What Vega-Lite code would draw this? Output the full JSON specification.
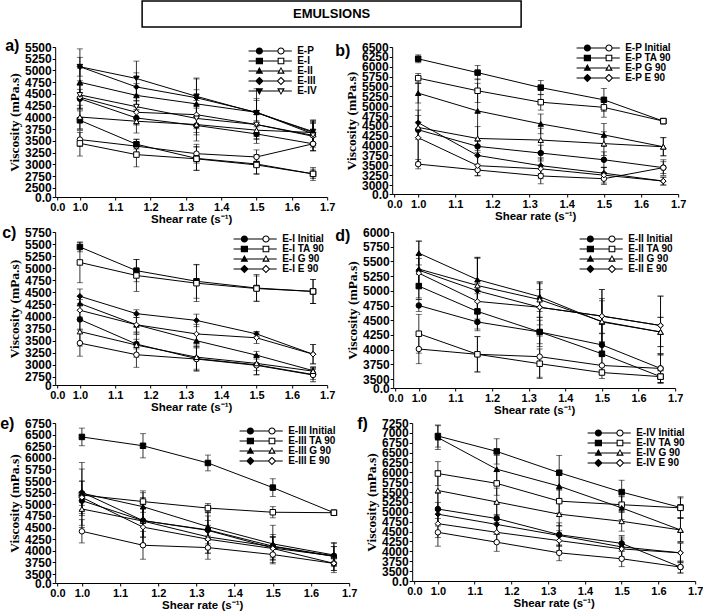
{
  "$schema": "https://vega.github.io/schema/vega-lite/v6.json",
  "padding": {"left": 0, "top": 0, "right": 0, "bottom": 0},
  "config": {
    "view": {"stroke": null},
    "font": "Liberation Sans",
    "axis": {"grid": false, "domainColor": "black", "tickColor": "black", "labelColor": "black", "titleColor": "black", "labelFont": "Liberation Sans", "labelFontWeight": "bold", "tickSize": 3, "labelPadding": 1, "labelFlush": false, "labelOverlap": false, "domainWidth": 1, "tickWidth": 1},
    "axisX": {"labelFontSize": 11, "titleFont": "Liberation Sans", "titleFontSize": 11.5, "titleFontWeight": "bold", "titlePadding": 1},
    "axisY": {"labelFontSize": 12, "titleFont": "Liberation Serif", "titleFontSize": 13.5, "titleFontWeight": "bold", "titlePadding": 3},
    "legend": {"labelFont": "Liberation Sans", "labelFontWeight": "bold", "labelFontSize": 10, "labelColor": "black", "padding": 0, "rowPadding": 0, "clipHeight": 8, "symbolSize": 23, "symbolOffset": 22, "labelOffset": 22, "symbolStrokeWidth": 0, "symbolFillColor": "black", "symbolOpacity": 1},
    "title": {"font": "Liberation Sans", "fontWeight": "bold", "fontSize": 16, "color": "black", "anchor": "start", "frame": "group", "offset": 0, "baseline": "middle"}
  },
  "datasets": {
    "a": [
      {"label":"E-P","kind":"filled","shear":1.0,"visc":4400,"sd":200},{"label":"E-P","kind":"filled","shear":1.16,"visc":3990,"sd":150},{"label":"E-P","kind":"filled","shear":1.33,"visc":3830,"sd":200},{"label":"E-P","kind":"filled","shear":1.5,"visc":3650,"sd":200},{"label":"E-P","kind":"filled","shear":1.66,"visc":3440,"sd":150},
      {"label":"E-P","kind":"open","shear":1.0,"visc":3530,"sd":150},{"label":"E-P","kind":"open","shear":1.16,"visc":3390,"sd":150},{"label":"E-P","kind":"open","shear":1.33,"visc":3230,"sd":200},{"label":"E-P","kind":"open","shear":1.5,"visc":3160,"sd":150},{"label":"E-P","kind":"open","shear":1.66,"visc":3440,"sd":150},
      {"label":"E-I","kind":"filled","shear":1.0,"visc":3940,"sd":200},{"label":"E-I","kind":"filled","shear":1.16,"visc":3430,"sd":100},{"label":"E-I","kind":"filled","shear":1.33,"visc":3130,"sd":250},{"label":"E-I","kind":"filled","shear":1.5,"visc":3010,"sd":200},{"label":"E-I","kind":"filled","shear":1.66,"visc":2800,"sd":100},
      {"label":"E-I","kind":"open","shear":1.0,"visc":3450,"sd":270},{"label":"E-I","kind":"open","shear":1.16,"visc":3210,"sd":260},{"label":"E-I","kind":"open","shear":1.33,"visc":3120,"sd":250},{"label":"E-I","kind":"open","shear":1.5,"visc":2990,"sd":200},{"label":"E-I","kind":"open","shear":1.66,"visc":2800,"sd":140},
      {"label":"E-II","kind":"filled","shear":1.0,"visc":4750,"sd":300},{"label":"E-II","kind":"filled","shear":1.16,"visc":4470,"sd":250},{"label":"E-II","kind":"filled","shear":1.33,"visc":4290,"sd":300},{"label":"E-II","kind":"filled","shear":1.5,"visc":4110,"sd":250},{"label":"E-II","kind":"filled","shear":1.66,"visc":3650,"sd":250},
      {"label":"E-II","kind":"open","shear":1.0,"visc":4010,"sd":250},{"label":"E-II","kind":"open","shear":1.16,"visc":3920,"sd":250},{"label":"E-II","kind":"open","shear":1.33,"visc":3850,"sd":350},{"label":"E-II","kind":"open","shear":1.5,"visc":3730,"sd":200},{"label":"E-II","kind":"open","shear":1.66,"visc":3680,"sd":250},
      {"label":"E-III","kind":"filled","shear":1.0,"visc":5080,"sd":380},{"label":"E-III","kind":"filled","shear":1.16,"visc":4650,"sd":300},{"label":"E-III","kind":"filled","shear":1.33,"visc":4420,"sd":400},{"label":"E-III","kind":"filled","shear":1.5,"visc":4110,"sd":500},{"label":"E-III","kind":"filled","shear":1.66,"visc":3680,"sd":250},
      {"label":"E-III","kind":"open","shear":1.0,"visc":4430,"sd":250},{"label":"E-III","kind":"open","shear":1.16,"visc":4110,"sd":250},{"label":"E-III","kind":"open","shear":1.33,"visc":4060,"sd":300},{"label":"E-III","kind":"open","shear":1.5,"visc":3850,"sd":300},{"label":"E-III","kind":"open","shear":1.66,"visc":3600,"sd":300},
      {"label":"E-IV","kind":"filled","shear":1.0,"visc":5080,"sd":200},{"label":"E-IV","kind":"filled","shear":1.16,"visc":4830,"sd":370},{"label":"E-IV","kind":"filled","shear":1.33,"visc":4450,"sd":390},{"label":"E-IV","kind":"filled","shear":1.5,"visc":4100,"sd":300},{"label":"E-IV","kind":"filled","shear":1.66,"visc":3700,"sd":250},
      {"label":"E-IV","kind":"open","shear":1.0,"visc":4480,"sd":300},{"label":"E-IV","kind":"open","shear":1.16,"visc":4230,"sd":250},{"label":"E-IV","kind":"open","shear":1.33,"visc":3980,"sd":300},{"label":"E-IV","kind":"open","shear":1.5,"visc":3850,"sd":250},{"label":"E-IV","kind":"open","shear":1.66,"visc":3620,"sd":250}
    ],
    "b": [
      {"label":"E-P Initial","kind":"filled","shear":1.0,"visc":4400,"sd":200},{"label":"E-P Initial","kind":"filled","shear":1.16,"visc":3980,"sd":150},{"label":"E-P Initial","kind":"filled","shear":1.33,"visc":3810,"sd":200},{"label":"E-P Initial","kind":"filled","shear":1.5,"visc":3640,"sd":200},{"label":"E-P Initial","kind":"filled","shear":1.66,"visc":3440,"sd":150},
      {"label":"E-P Initial","kind":"open","shear":1.0,"visc":3530,"sd":120},{"label":"E-P Initial","kind":"open","shear":1.16,"visc":3380,"sd":150},{"label":"E-P Initial","kind":"open","shear":1.33,"visc":3230,"sd":200},{"label":"E-P Initial","kind":"open","shear":1.5,"visc":3160,"sd":150},{"label":"E-P Initial","kind":"open","shear":1.66,"visc":3440,"sd":200},
      {"label":"E-P TA 90","kind":"filled","shear":1.0,"visc":6200,"sd":100},{"label":"E-P TA 90","kind":"filled","shear":1.16,"visc":5850,"sd":180},{"label":"E-P TA 90","kind":"filled","shear":1.33,"visc":5470,"sd":180},{"label":"E-P TA 90","kind":"filled","shear":1.5,"visc":5160,"sd":290},{"label":"E-P TA 90","kind":"filled","shear":1.66,"visc":4620,"sd":50},
      {"label":"E-P TA 90","kind":"open","shear":1.0,"visc":5710,"sd":120},{"label":"E-P TA 90","kind":"open","shear":1.16,"visc":5390,"sd":300},{"label":"E-P TA 90","kind":"open","shear":1.33,"visc":5100,"sd":200},{"label":"E-P TA 90","kind":"open","shear":1.5,"visc":4970,"sd":250},{"label":"E-P TA 90","kind":"open","shear":1.66,"visc":4620,"sd":50},
      {"label":"E-P G 90","kind":"filled","shear":1.0,"visc":5330,"sd":250},{"label":"E-P G 90","kind":"filled","shear":1.16,"visc":4880,"sd":700},{"label":"E-P G 90","kind":"filled","shear":1.33,"visc":4550,"sd":250},{"label":"E-P G 90","kind":"filled","shear":1.5,"visc":4270,"sd":290},{"label":"E-P G 90","kind":"filled","shear":1.66,"visc":3970,"sd":230},
      {"label":"E-P G 90","kind":"open","shear":1.0,"visc":4460,"sd":300},{"label":"E-P G 90","kind":"open","shear":1.16,"visc":4180,"sd":300},{"label":"E-P G 90","kind":"open","shear":1.33,"visc":4140,"sd":300},{"label":"E-P G 90","kind":"open","shear":1.5,"visc":4050,"sd":300},{"label":"E-P G 90","kind":"open","shear":1.66,"visc":3970,"sd":230},
      {"label":"E-P E 90","kind":"filled","shear":1.0,"visc":4580,"sd":1000},{"label":"E-P E 90","kind":"filled","shear":1.16,"visc":3750,"sd":350},{"label":"E-P E 90","kind":"filled","shear":1.33,"visc":3490,"sd":200},{"label":"E-P E 90","kind":"filled","shear":1.5,"visc":3300,"sd":150},{"label":"E-P E 90","kind":"filled","shear":1.66,"visc":3100,"sd":100},
      {"label":"E-P E 90","kind":"open","shear":1.0,"visc":4200,"sd":700},{"label":"E-P E 90","kind":"open","shear":1.16,"visc":3490,"sd":250},{"label":"E-P E 90","kind":"open","shear":1.33,"visc":3410,"sd":250},{"label":"E-P E 90","kind":"open","shear":1.5,"visc":3250,"sd":200},{"label":"E-P E 90","kind":"open","shear":1.66,"visc":3100,"sd":100}
    ],
    "c": [
      {"label":"E-I Initial","kind":"filled","shear":1.0,"visc":3940,"sd":200},{"label":"E-I Initial","kind":"filled","shear":1.16,"visc":3430,"sd":100},{"label":"E-I Initial","kind":"filled","shear":1.33,"visc":3130,"sd":250},{"label":"E-I Initial","kind":"filled","shear":1.5,"visc":3000,"sd":200},{"label":"E-I Initial","kind":"filled","shear":1.66,"visc":2800,"sd":100},
      {"label":"E-I Initial","kind":"open","shear":1.0,"visc":3450,"sd":270},{"label":"E-I Initial","kind":"open","shear":1.16,"visc":3210,"sd":260},{"label":"E-I Initial","kind":"open","shear":1.33,"visc":3120,"sd":250},{"label":"E-I Initial","kind":"open","shear":1.5,"visc":2990,"sd":200},{"label":"E-I Initial","kind":"open","shear":1.66,"visc":2790,"sd":140},
      {"label":"E-I TA 90","kind":"filled","shear":1.0,"visc":5440,"sd":100},{"label":"E-I TA 90","kind":"filled","shear":1.16,"visc":4950,"sd":230},{"label":"E-I TA 90","kind":"filled","shear":1.33,"visc":4730,"sd":350},{"label":"E-I TA 90","kind":"filled","shear":1.5,"visc":4590,"sd":280},{"label":"E-I TA 90","kind":"filled","shear":1.66,"visc":4520,"sd":250},
      {"label":"E-I TA 90","kind":"open","shear":1.0,"visc":5120,"sd":420},{"label":"E-I TA 90","kind":"open","shear":1.16,"visc":4850,"sd":330},{"label":"E-I TA 90","kind":"open","shear":1.33,"visc":4690,"sd":380},{"label":"E-I TA 90","kind":"open","shear":1.5,"visc":4580,"sd":260},{"label":"E-I TA 90","kind":"open","shear":1.66,"visc":4520,"sd":250},
      {"label":"E-I G 90","kind":"filled","shear":1.0,"visc":4270,"sd":150},{"label":"E-I G 90","kind":"filled","shear":1.16,"visc":3830,"sd":150},{"label":"E-I G 90","kind":"filled","shear":1.33,"visc":3500,"sd":150},{"label":"E-I G 90","kind":"filled","shear":1.5,"visc":3200,"sd":80},{"label":"E-I G 90","kind":"filled","shear":1.66,"visc":2880,"sd":80},
      {"label":"E-I G 90","kind":"open","shear":1.0,"visc":3690,"sd":300},{"label":"E-I G 90","kind":"open","shear":1.16,"visc":3410,"sd":250},{"label":"E-I G 90","kind":"open","shear":1.33,"visc":3160,"sd":250},{"label":"E-I G 90","kind":"open","shear":1.5,"visc":3030,"sd":150},{"label":"E-I G 90","kind":"open","shear":1.66,"visc":2870,"sd":80},
      {"label":"E-I E 90","kind":"filled","shear":1.0,"visc":4420,"sd":150},{"label":"E-I E 90","kind":"filled","shear":1.16,"visc":4060,"sd":80},{"label":"E-I E 90","kind":"filled","shear":1.33,"visc":3920,"sd":130},{"label":"E-I E 90","kind":"filled","shear":1.5,"visc":3640,"sd":50},{"label":"E-I E 90","kind":"filled","shear":1.66,"visc":3220,"sd":200},
      {"label":"E-I E 90","kind":"open","shear":1.0,"visc":4130,"sd":220},{"label":"E-I E 90","kind":"open","shear":1.16,"visc":3830,"sd":200},{"label":"E-I E 90","kind":"open","shear":1.33,"visc":3640,"sd":200},{"label":"E-I E 90","kind":"open","shear":1.5,"visc":3560,"sd":120},{"label":"E-I E 90","kind":"open","shear":1.66,"visc":3220,"sd":200}
    ],
    "d": [
      {"label":"E-II Initial","kind":"filled","shear":1.0,"visc":4750,"sd":100},{"label":"E-II Initial","kind":"filled","shear":1.16,"visc":4470,"sd":150},{"label":"E-II Initial","kind":"filled","shear":1.33,"visc":4300,"sd":200},{"label":"E-II Initial","kind":"filled","shear":1.5,"visc":4080,"sd":200},{"label":"E-II Initial","kind":"filled","shear":1.66,"visc":3680,"sd":250},
      {"label":"E-II Initial","kind":"open","shear":1.0,"visc":4010,"sd":250},{"label":"E-II Initial","kind":"open","shear":1.16,"visc":3920,"sd":300},{"label":"E-II Initial","kind":"open","shear":1.33,"visc":3880,"sd":350},{"label":"E-II Initial","kind":"open","shear":1.5,"visc":3730,"sd":150},{"label":"E-II Initial","kind":"open","shear":1.66,"visc":3680,"sd":250},
      {"label":"E-II TA 90","kind":"filled","shear":1.0,"visc":5080,"sd":200},{"label":"E-II TA 90","kind":"filled","shear":1.16,"visc":4650,"sd":300},{"label":"E-II TA 90","kind":"filled","shear":1.33,"visc":4300,"sd":250},{"label":"E-II TA 90","kind":"filled","shear":1.5,"visc":3930,"sd":200},{"label":"E-II TA 90","kind":"filled","shear":1.66,"visc":3540,"sd":100},
      {"label":"E-II TA 90","kind":"open","shear":1.0,"visc":4270,"sd":330},{"label":"E-II TA 90","kind":"open","shear":1.16,"visc":3920,"sd":300},{"label":"E-II TA 90","kind":"open","shear":1.33,"visc":3760,"sd":250},{"label":"E-II TA 90","kind":"open","shear":1.5,"visc":3610,"sd":100},{"label":"E-II TA 90","kind":"open","shear":1.66,"visc":3540,"sd":100},
      {"label":"E-II G 90","kind":"filled","shear":1.0,"visc":5640,"sd":200},{"label":"E-II G 90","kind":"filled","shear":1.16,"visc":5190,"sd":380},{"label":"E-II G 90","kind":"filled","shear":1.33,"visc":4900,"sd":250},{"label":"E-II G 90","kind":"filled","shear":1.5,"visc":4470,"sd":550},{"label":"E-II G 90","kind":"filled","shear":1.66,"visc":4300,"sd":250},
      {"label":"E-II G 90","kind":"open","shear":1.0,"visc":5370,"sd":250},{"label":"E-II G 90","kind":"open","shear":1.16,"visc":5090,"sd":480},{"label":"E-II G 90","kind":"open","shear":1.33,"visc":4850,"sd":300},{"label":"E-II G 90","kind":"open","shear":1.5,"visc":4480,"sd":350},{"label":"E-II G 90","kind":"open","shear":1.66,"visc":4300,"sd":250},
      {"label":"E-II E 90","kind":"filled","shear":1.0,"visc":5350,"sd":500},{"label":"E-II E 90","kind":"filled","shear":1.16,"visc":5000,"sd":550},{"label":"E-II E 90","kind":"filled","shear":1.33,"visc":4720,"sd":300},{"label":"E-II E 90","kind":"filled","shear":1.5,"visc":4570,"sd":450},{"label":"E-II E 90","kind":"filled","shear":1.66,"visc":4410,"sd":500},
      {"label":"E-II E 90","kind":"open","shear":1.0,"visc":5300,"sd":250},{"label":"E-II E 90","kind":"open","shear":1.16,"visc":4820,"sd":300},{"label":"E-II E 90","kind":"open","shear":1.33,"visc":4720,"sd":400},{"label":"E-II E 90","kind":"open","shear":1.5,"visc":4570,"sd":300},{"label":"E-II E 90","kind":"open","shear":1.66,"visc":4410,"sd":500}
    ],
    "e": [
      {"label":"E-III Initial","kind":"filled","shear":1.0,"visc":5080,"sd":200},{"label":"E-III Initial","kind":"filled","shear":1.16,"visc":4650,"sd":350},{"label":"E-III Initial","kind":"filled","shear":1.33,"visc":4450,"sd":300},{"label":"E-III Initial","kind":"filled","shear":1.5,"visc":4100,"sd":250},{"label":"E-III Initial","kind":"filled","shear":1.66,"visc":3890,"sd":200},
      {"label":"E-III Initial","kind":"open","shear":1.0,"visc":4420,"sd":250},{"label":"E-III Initial","kind":"open","shear":1.16,"visc":4120,"sd":300},{"label":"E-III Initial","kind":"open","shear":1.33,"visc":4070,"sd":250},{"label":"E-III Initial","kind":"open","shear":1.5,"visc":3920,"sd":200},{"label":"E-III Initial","kind":"open","shear":1.66,"visc":3730,"sd":200},
      {"label":"E-III TA 90","kind":"filled","shear":1.0,"visc":6450,"sd":190},{"label":"E-III TA 90","kind":"filled","shear":1.16,"visc":6260,"sd":260},{"label":"E-III TA 90","kind":"filled","shear":1.33,"visc":5890,"sd":170},{"label":"E-III TA 90","kind":"filled","shear":1.5,"visc":5360,"sd":190},{"label":"E-III TA 90","kind":"filled","shear":1.66,"visc":4820,"sd":30},
      {"label":"E-III TA 90","kind":"open","shear":1.0,"visc":5200,"sd":700},{"label":"E-III TA 90","kind":"open","shear":1.16,"visc":5060,"sd":230},{"label":"E-III TA 90","kind":"open","shear":1.33,"visc":4920,"sd":100},{"label":"E-III TA 90","kind":"open","shear":1.5,"visc":4830,"sd":120},{"label":"E-III TA 90","kind":"open","shear":1.66,"visc":4820,"sd":30},
      {"label":"E-III G 90","kind":"filled","shear":1.0,"visc":5240,"sd":260},{"label":"E-III G 90","kind":"filled","shear":1.16,"visc":4950,"sd":300},{"label":"E-III G 90","kind":"filled","shear":1.33,"visc":4520,"sd":300},{"label":"E-III G 90","kind":"filled","shear":1.5,"visc":4150,"sd":400},{"label":"E-III G 90","kind":"filled","shear":1.66,"visc":3910,"sd":250},
      {"label":"E-III G 90","kind":"open","shear":1.0,"visc":4900,"sd":350},{"label":"E-III G 90","kind":"open","shear":1.16,"visc":4640,"sd":350},{"label":"E-III G 90","kind":"open","shear":1.33,"visc":4300,"sd":350},{"label":"E-III G 90","kind":"open","shear":1.5,"visc":4090,"sd":200},{"label":"E-III G 90","kind":"open","shear":1.66,"visc":3880,"sd":300},
      {"label":"E-III E 90","kind":"filled","shear":1.0,"visc":5260,"sd":500},{"label":"E-III E 90","kind":"filled","shear":1.16,"visc":4650,"sd":500},{"label":"E-III E 90","kind":"filled","shear":1.33,"visc":4440,"sd":400},{"label":"E-III E 90","kind":"filled","shear":1.5,"visc":4060,"sd":250},{"label":"E-III E 90","kind":"filled","shear":1.66,"visc":3890,"sd":200},
      {"label":"E-III E 90","kind":"open","shear":1.0,"visc":5150,"sd":350},{"label":"E-III E 90","kind":"open","shear":1.16,"visc":4510,"sd":400},{"label":"E-III E 90","kind":"open","shear":1.33,"visc":4250,"sd":300},{"label":"E-III E 90","kind":"open","shear":1.5,"visc":4050,"sd":250},{"label":"E-III E 90","kind":"open","shear":1.66,"visc":3730,"sd":150}
    ],
    "f": [
      {"label":"E-IV Initial","kind":"filled","shear":1.0,"visc":5070,"sd":400},{"label":"E-IV Initial","kind":"filled","shear":1.16,"visc":4830,"sd":400},{"label":"E-IV Initial","kind":"filled","shear":1.33,"visc":4420,"sd":300},{"label":"E-IV Initial","kind":"filled","shear":1.5,"visc":4200,"sd":200},{"label":"E-IV Initial","kind":"filled","shear":1.66,"visc":3600,"sd":150},
      {"label":"E-IV Initial","kind":"open","shear":1.0,"visc":4480,"sd":350},{"label":"E-IV Initial","kind":"open","shear":1.16,"visc":4230,"sd":230},{"label":"E-IV Initial","kind":"open","shear":1.33,"visc":3960,"sd":200},{"label":"E-IV Initial","kind":"open","shear":1.5,"visc":3810,"sd":200},{"label":"E-IV Initial","kind":"open","shear":1.66,"visc":3600,"sd":150},
      {"label":"E-IV TA 90","kind":"filled","shear":1.0,"visc":6920,"sd":280},{"label":"E-IV TA 90","kind":"filled","shear":1.16,"visc":6530,"sd":320},{"label":"E-IV TA 90","kind":"filled","shear":1.33,"visc":5990,"sd":440},{"label":"E-IV TA 90","kind":"filled","shear":1.5,"visc":5500,"sd":300},{"label":"E-IV TA 90","kind":"filled","shear":1.66,"visc":5110,"sd":270},
      {"label":"E-IV TA 90","kind":"open","shear":1.0,"visc":5970,"sd":300},{"label":"E-IV TA 90","kind":"open","shear":1.16,"visc":5720,"sd":300},{"label":"E-IV TA 90","kind":"open","shear":1.33,"visc":5270,"sd":300},{"label":"E-IV TA 90","kind":"open","shear":1.5,"visc":5180,"sd":200},{"label":"E-IV TA 90","kind":"open","shear":1.66,"visc":5100,"sd":250},
      {"label":"E-IV G 90","kind":"filled","shear":1.0,"visc":6880,"sd":300},{"label":"E-IV G 90","kind":"filled","shear":1.16,"visc":6080,"sd":350},{"label":"E-IV G 90","kind":"filled","shear":1.33,"visc":5650,"sd":400},{"label":"E-IV G 90","kind":"filled","shear":1.5,"visc":5100,"sd":300},{"label":"E-IV G 90","kind":"filled","shear":1.66,"visc":4540,"sd":300},
      {"label":"E-IV G 90","kind":"open","shear":1.0,"visc":5540,"sd":500},{"label":"E-IV G 90","kind":"open","shear":1.16,"visc":5250,"sd":350},{"label":"E-IV G 90","kind":"open","shear":1.33,"visc":4940,"sd":300},{"label":"E-IV G 90","kind":"open","shear":1.5,"visc":4760,"sd":250},{"label":"E-IV G 90","kind":"open","shear":1.66,"visc":4540,"sd":300},
      {"label":"E-IV E 90","kind":"filled","shear":1.0,"visc":4940,"sd":300},{"label":"E-IV E 90","kind":"filled","shear":1.16,"visc":4680,"sd":250},{"label":"E-IV E 90","kind":"filled","shear":1.33,"visc":4400,"sd":250},{"label":"E-IV E 90","kind":"filled","shear":1.5,"visc":4110,"sd":250},{"label":"E-IV E 90","kind":"filled","shear":1.66,"visc":3960,"sd":250},
      {"label":"E-IV E 90","kind":"open","shear":1.0,"visc":4700,"sd":350},{"label":"E-IV E 90","kind":"open","shear":1.16,"visc":4480,"sd":250},{"label":"E-IV E 90","kind":"open","shear":1.33,"visc":4270,"sd":250},{"label":"E-IV E 90","kind":"open","shear":1.5,"visc":4060,"sd":250},{"label":"E-IV E 90","kind":"open","shear":1.66,"visc":3960,"sd":250}
    ]
  },
  "spacing": 10,
  "center": true,
  "vconcat": [
    {
      "width": 379, "height": 26,
      "view": {"stroke": "black", "strokeWidth": 1.5},
      "title": {"text": " ", "orient": "right", "offset": 84, "fontSize": 10, "anchor": "middle"},
      "data": {"values": [{"name": "EMULSIONS"}]},
      "mark": {"type": "text", "font": "Liberation Sans", "fontWeight": "bold", "fontSize": 13, "color": "black"},
      "encoding": {"text": {"field": "name", "type": "nominal"}}
    },
    {
      "spacing": 0,
      "vconcat": [
        {
          "spacing": 0,
          "hconcat": [
            {
              "width": 272, "height": 150,
              "title": {"text": "a)", "dx": -50, "dy": 17},
              "data": {"name": "a"},
              "encoding": {
                "x": {"field": "shear", "type": "quantitative", "scale": {"domain": [0.93, 1.7], "nice": false, "zero": false}, "axis": {"title": "Shear rate (s⁻¹)", "values": [0.936, 1.0, 1.1, 1.2, 1.3, 1.4, 1.5, 1.6, 1.7], "labelExpr": "datum.value < 0.97 ? '0.0' : format(datum.value, '.1f')"}},
                "y": {"field": "visc", "type": "quantitative", "scale": {"domain": [2308, 5500], "nice": false, "zero": false}, "axis": {"title": "Viscosity (mPa.s)", "values": [2308, 2500, 2750, 3000, 3250, 3500, 3750, 4000, 4250, 4500, 4750, 5000, 5250, 5500], "labelExpr": "datum.value < 2400 ? '0.0' : format(datum.value, 'd')"}}
              },
              "layer": [
                {"mark": {"type": "errorbar", "ticks": {"size": 6, "color": "black"}, "color": "black", "thickness": 0.8}, "encoding": {"yError": {"field": "sd"}}},
                {"mark": {"type": "line", "color": "black", "strokeWidth": 1}, "encoding": {"detail": [{"field": "label", "type": "nominal"}, {"field": "kind", "type": "nominal"}]}},
                {"mark": {"type": "point", "filled": true, "stroke": "black", "strokeWidth": 1, "size": 30, "opacity": 1},
                 "encoding": {"shape": {"field": "label", "type": "nominal", "scale": {"domain": ["E-P", "E-I", "E-II", "E-III", "E-IV"], "range": ["circle", "square", "triangle-up", "diamond", "triangle-down"]}, "legend": null},
                              "fill": {"field": "kind", "type": "nominal", "scale": {"domain": ["filled", "open"], "range": ["black", "white"]}, "legend": null}}},
                {"mark": {"type": "point", "filled": true, "color": "black", "size": 0, "opacity": 1},
                 "encoding": {"shape": {"field": "label", "type": "nominal", "scale": {"domain": ["E-P", "E-I", "E-II", "E-III", "E-IV"], "range": [
                   "M -9 -0.22 L -6 -0.22 L -6 0.22 L -9 0.22 Z M -3.2 -0.22 L 3.45 -0.22 L 3.45 0.22 L -3.2 0.22 Z M 5.55 -0.22 L 9 -0.22 L 9 0.22 L 5.55 0.22 Z M -6 0 A 1.5 1.5 0 1 1 -3 0 A 1.5 1.5 0 1 1 -6 0 Z M 3 0 A 1.5 1.5 0 1 1 6 0 A 1.5 1.5 0 1 1 3 0 Z M 3.45 0 A 1.05 1.05 0 1 0 5.55 0 A 1.05 1.05 0 1 0 3.45 0 Z",
                   "M -9 -0.22 L -6 -0.22 L -6 0.22 L -9 0.22 Z M -3.2 -0.22 L 3.55 -0.22 L 3.55 0.22 L -3.2 0.22 Z M 5.45 -0.22 L 9 -0.22 L 9 0.22 L 5.45 0.22 Z M -6 -1.4 L -3 -1.4 L -3 1.4 L -6 1.4 Z M 3.1 -1.4 L 5.9 -1.4 L 5.9 1.4 L 3.1 1.4 Z M 3.55 -0.95 L 3.55 0.95 L 5.45 0.95 L 5.45 -0.95 Z",
                   "M -9 -0.22 L -5.5 -0.22 L -5.5 0.22 L -9 0.22 Z M -3.5 -0.22 L 4.07 -0.22 L 4.07 0.22 L -3.5 0.22 Z M 4.93 -0.22 L 9 -0.22 L 9 0.22 L 4.93 0.22 Z M -4.5 -1.7 L -2.9 1.1 L -6.1 1.1 Z M 4.5 -1.7 L 6.1 1.1 L 2.9 1.1 Z M 4.5 -0.9 L 3.75 0.65 L 5.25 0.65 Z",
                   "M -9 -0.22 L -6.2 -0.22 L -6.2 0.22 L -9 0.22 Z M -2.8 -0.22 L 3.35 -0.22 L 3.35 0.22 L -2.8 0.22 Z M 5.65 -0.22 L 9 -0.22 L 9 0.22 L 5.65 0.22 Z M -4.5 -1.8 L -2.7 0 L -4.5 1.8 L -6.3 0 Z M 4.5 -1.8 L 6.3 0 L 4.5 1.8 L 2.7 0 Z M 4.5 -1.15 L 3.35 0 L 4.5 1.15 L 5.65 0 Z",
                   "M -9 -0.22 L -5.5 -0.22 L -5.5 0.22 L -9 0.22 Z M -3.5 -0.22 L 4.07 -0.22 L 4.07 0.22 L -3.5 0.22 Z M 4.93 -0.22 L 9 -0.22 L 9 0.22 L 4.93 0.22 Z M -6.1 -1.1 L -2.9 -1.1 L -4.5 1.7 Z M 2.9 -1.1 L 6.1 -1.1 L 4.5 1.7 Z M 3.75 -0.65 L 4.5 0.9 L 5.25 -0.65 Z"]},
                   "legend": {"title": null, "orient": "none", "legendX": 188, "legendY": 0}}}},
                {"data": {"values": [{}]}, "mark": {"type": "text", "text": "//", "font": "Liberation Sans", "fontWeight": "bold", "fontSize": 12, "color": "black", "baseline": "middle"}, "encoding": {"x": {"datum": 0.975}, "y": {"datum": 2308}}},
                {"data": {"values": [{}]}, "mark": {"type": "text", "text": "\\\\", "angle": 90, "font": "Liberation Sans", "fontWeight": "bold", "fontSize": 11, "color": "black", "baseline": "middle"}, "encoding": {"x": {"datum": 0.93}, "y": {"datum": 2420}}}
              ],
              "resolve": {"scale": {"shape": "independent"}}
            },
            {
              "width": 286, "height": 147,
              "title": {"text": "b)", "dx": -57, "dy": 22},
              "data": {"name": "b"},
              "encoding": {
                "x": {"field": "shear", "type": "quantitative", "scale": {"domain": [0.93, 1.7], "nice": false, "zero": false}, "axis": {"title": "Shear rate (s⁻¹)", "values": [0.936, 1.0, 1.1, 1.2, 1.3, 1.4, 1.5, 1.6, 1.7], "labelExpr": "datum.value < 0.97 ? '0.0' : format(datum.value, '.1f')"}},
                "y": {"field": "visc", "type": "quantitative", "scale": {"domain": [2772, 6500], "nice": false, "zero": false}, "axis": {"title": "Viscosity (mPa.s)", "values": [2772, 3000, 3250, 3500, 3750, 4000, 4250, 4500, 4750, 5000, 5250, 5500, 5750, 6000, 6250, 6500], "labelExpr": "datum.value < 2900 ? '0.0' : format(datum.value, 'd')"}}
              },
              "layer": [
                {"mark": {"type": "errorbar", "ticks": {"size": 6, "color": "black"}, "color": "black", "thickness": 0.8}, "encoding": {"yError": {"field": "sd"}}},
                {"mark": {"type": "line", "color": "black", "strokeWidth": 1}, "encoding": {"detail": [{"field": "label", "type": "nominal"}, {"field": "kind", "type": "nominal"}]}},
                {"mark": {"type": "point", "filled": true, "stroke": "black", "strokeWidth": 1, "size": 30, "opacity": 1},
                 "encoding": {"shape": {"field": "label", "type": "nominal", "scale": {"domain": ["E-P Initial", "E-P TA 90", "E-P G 90", "E-P E 90"], "range": ["circle", "square", "triangle-up", "diamond"]}, "legend": null},
                              "fill": {"field": "kind", "type": "nominal", "scale": {"domain": ["filled", "open"], "range": ["black", "white"]}, "legend": null}}},
                {"mark": {"type": "point", "filled": true, "color": "black", "size": 0, "opacity": 1},
                 "encoding": {"shape": {"field": "label", "type": "nominal", "scale": {"domain": ["E-P Initial", "E-P TA 90", "E-P G 90", "E-P E 90"], "range": [
                   "M -9 -0.22 L -6 -0.22 L -6 0.22 L -9 0.22 Z M -3.2 -0.22 L 3.45 -0.22 L 3.45 0.22 L -3.2 0.22 Z M 5.55 -0.22 L 9 -0.22 L 9 0.22 L 5.55 0.22 Z M -6 0 A 1.5 1.5 0 1 1 -3 0 A 1.5 1.5 0 1 1 -6 0 Z M 3 0 A 1.5 1.5 0 1 1 6 0 A 1.5 1.5 0 1 1 3 0 Z M 3.45 0 A 1.05 1.05 0 1 0 5.55 0 A 1.05 1.05 0 1 0 3.45 0 Z",
                   "M -9 -0.22 L -6 -0.22 L -6 0.22 L -9 0.22 Z M -3.2 -0.22 L 3.55 -0.22 L 3.55 0.22 L -3.2 0.22 Z M 5.45 -0.22 L 9 -0.22 L 9 0.22 L 5.45 0.22 Z M -6 -1.4 L -3 -1.4 L -3 1.4 L -6 1.4 Z M 3.1 -1.4 L 5.9 -1.4 L 5.9 1.4 L 3.1 1.4 Z M 3.55 -0.95 L 3.55 0.95 L 5.45 0.95 L 5.45 -0.95 Z",
                   "M -9 -0.22 L -5.5 -0.22 L -5.5 0.22 L -9 0.22 Z M -3.5 -0.22 L 4.07 -0.22 L 4.07 0.22 L -3.5 0.22 Z M 4.93 -0.22 L 9 -0.22 L 9 0.22 L 4.93 0.22 Z M -4.5 -1.7 L -2.9 1.1 L -6.1 1.1 Z M 4.5 -1.7 L 6.1 1.1 L 2.9 1.1 Z M 4.5 -0.9 L 3.75 0.65 L 5.25 0.65 Z",
                   "M -9 -0.22 L -6.2 -0.22 L -6.2 0.22 L -9 0.22 Z M -2.8 -0.22 L 3.35 -0.22 L 3.35 0.22 L -2.8 0.22 Z M 5.65 -0.22 L 9 -0.22 L 9 0.22 L 5.65 0.22 Z M -4.5 -1.8 L -2.7 0 L -4.5 1.8 L -6.3 0 Z M 4.5 -1.8 L 6.3 0 L 4.5 1.8 L 2.7 0 Z M 4.5 -1.15 L 3.35 0 L 4.5 1.15 L 5.65 0 Z"]},
                   "legend": {"title": null, "orient": "none", "legendX": 179, "legendY": -3}}}},
                {"data": {"values": [{}]}, "mark": {"type": "text", "text": "//", "font": "Liberation Sans", "fontWeight": "bold", "fontSize": 12, "color": "black", "baseline": "middle"}, "encoding": {"x": {"datum": 0.975}, "y": {"datum": 2772}}},
                {"data": {"values": [{}]}, "mark": {"type": "text", "text": "\\\\", "angle": 90, "font": "Liberation Sans", "fontWeight": "bold", "fontSize": 11, "color": "black", "baseline": "middle"}, "encoding": {"x": {"datum": 0.93}, "y": {"datum": 2900}}}
              ],
              "resolve": {"scale": {"shape": "independent"}}
            }
          ]
        },
        {
          "spacing": 0,
          "hconcat": [
            {
              "width": 272, "height": 153,
              "title": {"text": "c)", "dx": -53, "dy": 19},
              "data": {"name": "c"},
              "encoding": {
                "x": {"field": "shear", "type": "quantitative", "scale": {"domain": [0.93, 1.7], "nice": false, "zero": false}, "axis": {"title": "Shear rate (s⁻¹)", "values": [0.936, 1.0, 1.1, 1.2, 1.3, 1.4, 1.5, 1.6, 1.7], "labelExpr": "datum.value < 0.97 ? '0.0' : format(datum.value, '.1f')"}},
                "y": {"field": "visc", "type": "quantitative", "scale": {"domain": [2583, 5750], "nice": false, "zero": false}, "axis": {"title": "Viscosity (mPa.s)", "values": [2583, 2750, 3000, 3250, 3500, 3750, 4000, 4250, 4500, 4750, 5000, 5250, 5500, 5750], "labelExpr": "datum.value < 2700 ? '0' : format(datum.value, 'd')"}}
              },
              "layer": [
                {"mark": {"type": "errorbar", "ticks": {"size": 6, "color": "black"}, "color": "black", "thickness": 0.8}, "encoding": {"yError": {"field": "sd"}}},
                {"mark": {"type": "line", "color": "black", "strokeWidth": 1}, "encoding": {"detail": [{"field": "label", "type": "nominal"}, {"field": "kind", "type": "nominal"}]}},
                {"mark": {"type": "point", "filled": true, "stroke": "black", "strokeWidth": 1, "size": 30, "opacity": 1},
                 "encoding": {"shape": {"field": "label", "type": "nominal", "scale": {"domain": ["E-I Initial", "E-I TA 90", "E-I G 90", "E-I E 90"], "range": ["circle", "square", "triangle-up", "diamond"]}, "legend": null},
                              "fill": {"field": "kind", "type": "nominal", "scale": {"domain": ["filled", "open"], "range": ["black", "white"]}, "legend": null}}},
                {"mark": {"type": "point", "filled": true, "color": "black", "size": 0, "opacity": 1},
                 "encoding": {"shape": {"field": "label", "type": "nominal", "scale": {"domain": ["E-I Initial", "E-I TA 90", "E-I G 90", "E-I E 90"], "range": [
                   "M -9 -0.22 L -6 -0.22 L -6 0.22 L -9 0.22 Z M -3.2 -0.22 L 3.45 -0.22 L 3.45 0.22 L -3.2 0.22 Z M 5.55 -0.22 L 9 -0.22 L 9 0.22 L 5.55 0.22 Z M -6 0 A 1.5 1.5 0 1 1 -3 0 A 1.5 1.5 0 1 1 -6 0 Z M 3 0 A 1.5 1.5 0 1 1 6 0 A 1.5 1.5 0 1 1 3 0 Z M 3.45 0 A 1.05 1.05 0 1 0 5.55 0 A 1.05 1.05 0 1 0 3.45 0 Z",
                   "M -9 -0.22 L -6 -0.22 L -6 0.22 L -9 0.22 Z M -3.2 -0.22 L 3.55 -0.22 L 3.55 0.22 L -3.2 0.22 Z M 5.45 -0.22 L 9 -0.22 L 9 0.22 L 5.45 0.22 Z M -6 -1.4 L -3 -1.4 L -3 1.4 L -6 1.4 Z M 3.1 -1.4 L 5.9 -1.4 L 5.9 1.4 L 3.1 1.4 Z M 3.55 -0.95 L 3.55 0.95 L 5.45 0.95 L 5.45 -0.95 Z",
                   "M -9 -0.22 L -5.5 -0.22 L -5.5 0.22 L -9 0.22 Z M -3.5 -0.22 L 4.07 -0.22 L 4.07 0.22 L -3.5 0.22 Z M 4.93 -0.22 L 9 -0.22 L 9 0.22 L 4.93 0.22 Z M -4.5 -1.7 L -2.9 1.1 L -6.1 1.1 Z M 4.5 -1.7 L 6.1 1.1 L 2.9 1.1 Z M 4.5 -0.9 L 3.75 0.65 L 5.25 0.65 Z",
                   "M -9 -0.22 L -6.2 -0.22 L -6.2 0.22 L -9 0.22 Z M -2.8 -0.22 L 3.35 -0.22 L 3.35 0.22 L -2.8 0.22 Z M 5.65 -0.22 L 9 -0.22 L 9 0.22 L 5.65 0.22 Z M -4.5 -1.8 L -2.7 0 L -4.5 1.8 L -6.3 0 Z M 4.5 -1.8 L 6.3 0 L 4.5 1.8 L 2.7 0 Z M 4.5 -1.15 L 3.35 0 L 4.5 1.15 L 5.65 0 Z"]},
                   "legend": {"title": null, "orient": "none", "legendX": 173, "legendY": 3}}}},
                {"data": {"values": [{}]}, "mark": {"type": "text", "text": "//", "font": "Liberation Sans", "fontWeight": "bold", "fontSize": 12, "color": "black", "baseline": "middle"}, "encoding": {"x": {"datum": 0.975}, "y": {"datum": 2583}}},
                {"data": {"values": [{}]}, "mark": {"type": "text", "text": "\\\\", "angle": 90, "font": "Liberation Sans", "fontWeight": "bold", "fontSize": 11, "color": "black", "baseline": "middle"}, "encoding": {"x": {"datum": 0.93}, "y": {"datum": 2680}}}
              ],
              "resolve": {"scale": {"shape": "independent"}}
            },
            {
              "width": 282, "height": 156,
              "title": {"text": "d)", "dx": -58, "dy": 22},
              "data": {"name": "d"},
              "encoding": {
                "x": {"field": "shear", "type": "quantitative", "scale": {"domain": [0.93, 1.7], "nice": false, "zero": false}, "axis": {"title": "Shear rate (s⁻¹)", "values": [0.936, 1.0, 1.1, 1.2, 1.3, 1.4, 1.5, 1.6, 1.7], "labelExpr": "datum.value < 0.97 ? '0.0' : format(datum.value, '.1f')"}},
                "y": {"field": "visc", "type": "quantitative", "scale": {"domain": [3347, 6000], "nice": false, "zero": false}, "axis": {"title": "Viscosity (mPa.s)", "values": [3347, 3500, 3750, 4000, 4250, 4500, 4750, 5000, 5250, 5500, 5750, 6000], "labelExpr": "datum.value < 3400 ? '0.0' : format(datum.value, 'd')"}}
              },
              "layer": [
                {"mark": {"type": "errorbar", "ticks": {"size": 6, "color": "black"}, "color": "black", "thickness": 0.8}, "encoding": {"yError": {"field": "sd"}}},
                {"mark": {"type": "line", "color": "black", "strokeWidth": 1}, "encoding": {"detail": [{"field": "label", "type": "nominal"}, {"field": "kind", "type": "nominal"}]}},
                {"mark": {"type": "point", "filled": true, "stroke": "black", "strokeWidth": 1, "size": 30, "opacity": 1},
                 "encoding": {"shape": {"field": "label", "type": "nominal", "scale": {"domain": ["E-II Initial", "E-II TA 90", "E-II G 90", "E-II E 90"], "range": ["circle", "square", "triangle-up", "diamond"]}, "legend": null},
                              "fill": {"field": "kind", "type": "nominal", "scale": {"domain": ["filled", "open"], "range": ["black", "white"]}, "legend": null}}},
                {"mark": {"type": "point", "filled": true, "color": "black", "size": 0, "opacity": 1},
                 "encoding": {"shape": {"field": "label", "type": "nominal", "scale": {"domain": ["E-II Initial", "E-II TA 90", "E-II G 90", "E-II E 90"], "range": [
                   "M -9 -0.22 L -6 -0.22 L -6 0.22 L -9 0.22 Z M -3.2 -0.22 L 3.45 -0.22 L 3.45 0.22 L -3.2 0.22 Z M 5.55 -0.22 L 9 -0.22 L 9 0.22 L 5.55 0.22 Z M -6 0 A 1.5 1.5 0 1 1 -3 0 A 1.5 1.5 0 1 1 -6 0 Z M 3 0 A 1.5 1.5 0 1 1 6 0 A 1.5 1.5 0 1 1 3 0 Z M 3.45 0 A 1.05 1.05 0 1 0 5.55 0 A 1.05 1.05 0 1 0 3.45 0 Z",
                   "M -9 -0.22 L -6 -0.22 L -6 0.22 L -9 0.22 Z M -3.2 -0.22 L 3.55 -0.22 L 3.55 0.22 L -3.2 0.22 Z M 5.45 -0.22 L 9 -0.22 L 9 0.22 L 5.45 0.22 Z M -6 -1.4 L -3 -1.4 L -3 1.4 L -6 1.4 Z M 3.1 -1.4 L 5.9 -1.4 L 5.9 1.4 L 3.1 1.4 Z M 3.55 -0.95 L 3.55 0.95 L 5.45 0.95 L 5.45 -0.95 Z",
                   "M -9 -0.22 L -5.5 -0.22 L -5.5 0.22 L -9 0.22 Z M -3.5 -0.22 L 4.07 -0.22 L 4.07 0.22 L -3.5 0.22 Z M 4.93 -0.22 L 9 -0.22 L 9 0.22 L 4.93 0.22 Z M -4.5 -1.7 L -2.9 1.1 L -6.1 1.1 Z M 4.5 -1.7 L 6.1 1.1 L 2.9 1.1 Z M 4.5 -0.9 L 3.75 0.65 L 5.25 0.65 Z",
                   "M -9 -0.22 L -6.2 -0.22 L -6.2 0.22 L -9 0.22 Z M -2.8 -0.22 L 3.35 -0.22 L 3.35 0.22 L -2.8 0.22 Z M 5.65 -0.22 L 9 -0.22 L 9 0.22 L 5.65 0.22 Z M -4.5 -1.8 L -2.7 0 L -4.5 1.8 L -6.3 0 Z M 4.5 -1.8 L 6.3 0 L 4.5 1.8 L 2.7 0 Z M 4.5 -1.15 L 3.35 0 L 4.5 1.15 L 5.65 0 Z"]},
                   "legend": {"title": null, "orient": "none", "legendX": 181, "legendY": 3}}}},
                {"data": {"values": [{}]}, "mark": {"type": "text", "text": "//", "font": "Liberation Sans", "fontWeight": "bold", "fontSize": 12, "color": "black", "baseline": "middle"}, "encoding": {"x": {"datum": 0.975}, "y": {"datum": 3347}}},
                {"data": {"values": [{}]}, "mark": {"type": "text", "text": "\\\\", "angle": 90, "font": "Liberation Sans", "fontWeight": "bold", "fontSize": 11, "color": "black", "baseline": "middle"}, "encoding": {"x": {"datum": 0.93}, "y": {"datum": 3430}}}
              ],
              "resolve": {"scale": {"shape": "independent"}}
            }
          ]
        },
        {
          "spacing": 0,
          "hconcat": [
            {
              "width": 294, "height": 160,
              "title": {"text": "e)", "dx": -55, "dy": 19},
              "data": {"name": "e"},
              "encoding": {
                "x": {"field": "shear", "type": "quantitative", "scale": {"domain": [0.93, 1.7], "nice": false, "zero": false}, "axis": {"title": "Shear rate (s⁻¹)", "values": [0.936, 1.0, 1.1, 1.2, 1.3, 1.4, 1.5, 1.6, 1.7], "labelExpr": "datum.value < 0.97 ? '0.0' : format(datum.value, '.1f')"}},
                "y": {"field": "visc", "type": "quantitative", "scale": {"domain": [3308, 6750], "nice": false, "zero": false}, "axis": {"title": "Viscosity (mPa.s)", "values": [3308, 3500, 3750, 4000, 4250, 4500, 4750, 5000, 5250, 5500, 5750, 6000, 6250, 6500, 6750], "labelExpr": "datum.value < 3400 ? '0.0' : format(datum.value, 'd')"}}
              },
              "layer": [
                {"mark": {"type": "errorbar", "ticks": {"size": 6, "color": "black"}, "color": "black", "thickness": 0.8}, "encoding": {"yError": {"field": "sd"}}},
                {"mark": {"type": "line", "color": "black", "strokeWidth": 1}, "encoding": {"detail": [{"field": "label", "type": "nominal"}, {"field": "kind", "type": "nominal"}]}},
                {"mark": {"type": "point", "filled": true, "stroke": "black", "strokeWidth": 1, "size": 30, "opacity": 1},
                 "encoding": {"shape": {"field": "label", "type": "nominal", "scale": {"domain": ["E-III Initial", "E-III TA 90", "E-III G 90", "E-III E 90"], "range": ["circle", "square", "triangle-up", "diamond"]}, "legend": null},
                              "fill": {"field": "kind", "type": "nominal", "scale": {"domain": ["filled", "open"], "range": ["black", "white"]}, "legend": null}}},
                {"mark": {"type": "point", "filled": true, "color": "black", "size": 0, "opacity": 1},
                 "encoding": {"shape": {"field": "label", "type": "nominal", "scale": {"domain": ["E-III Initial", "E-III TA 90", "E-III G 90", "E-III E 90"], "range": [
                   "M -9 -0.22 L -6 -0.22 L -6 0.22 L -9 0.22 Z M -3.2 -0.22 L 3.45 -0.22 L 3.45 0.22 L -3.2 0.22 Z M 5.55 -0.22 L 9 -0.22 L 9 0.22 L 5.55 0.22 Z M -6 0 A 1.5 1.5 0 1 1 -3 0 A 1.5 1.5 0 1 1 -6 0 Z M 3 0 A 1.5 1.5 0 1 1 6 0 A 1.5 1.5 0 1 1 3 0 Z M 3.45 0 A 1.05 1.05 0 1 0 5.55 0 A 1.05 1.05 0 1 0 3.45 0 Z",
                   "M -9 -0.22 L -6 -0.22 L -6 0.22 L -9 0.22 Z M -3.2 -0.22 L 3.55 -0.22 L 3.55 0.22 L -3.2 0.22 Z M 5.45 -0.22 L 9 -0.22 L 9 0.22 L 5.45 0.22 Z M -6 -1.4 L -3 -1.4 L -3 1.4 L -6 1.4 Z M 3.1 -1.4 L 5.9 -1.4 L 5.9 1.4 L 3.1 1.4 Z M 3.55 -0.95 L 3.55 0.95 L 5.45 0.95 L 5.45 -0.95 Z",
                   "M -9 -0.22 L -5.5 -0.22 L -5.5 0.22 L -9 0.22 Z M -3.5 -0.22 L 4.07 -0.22 L 4.07 0.22 L -3.5 0.22 Z M 4.93 -0.22 L 9 -0.22 L 9 0.22 L 4.93 0.22 Z M -4.5 -1.7 L -2.9 1.1 L -6.1 1.1 Z M 4.5 -1.7 L 6.1 1.1 L 2.9 1.1 Z M 4.5 -0.9 L 3.75 0.65 L 5.25 0.65 Z",
                   "M -9 -0.22 L -6.2 -0.22 L -6.2 0.22 L -9 0.22 Z M -2.8 -0.22 L 3.35 -0.22 L 3.35 0.22 L -2.8 0.22 Z M 5.65 -0.22 L 9 -0.22 L 9 0.22 L 5.65 0.22 Z M -4.5 -1.8 L -2.7 0 L -4.5 1.8 L -6.3 0 Z M 4.5 -1.8 L 6.3 0 L 4.5 1.8 L 2.7 0 Z M 4.5 -1.15 L 3.35 0 L 4.5 1.15 L 5.65 0 Z"]},
                   "legend": {"title": null, "orient": "none", "legendX": 179, "legendY": 4}}}},
                {"data": {"values": [{}]}, "mark": {"type": "text", "text": "//", "font": "Liberation Sans", "fontWeight": "bold", "fontSize": 12, "color": "black", "baseline": "middle"}, "encoding": {"x": {"datum": 0.975}, "y": {"datum": 3308}}},
                {"data": {"values": [{}]}, "mark": {"type": "text", "text": "\\\\", "angle": 90, "font": "Liberation Sans", "fontWeight": "bold", "fontSize": 11, "color": "black", "baseline": "middle"}, "encoding": {"x": {"datum": 0.93}, "y": {"datum": 3415}}}
              ],
              "resolve": {"scale": {"shape": "independent"}}
            },
            {
              "width": 283, "height": 158,
              "title": {"text": "f)", "dx": -55, "dy": 19},
              "data": {"name": "f"},
              "encoding": {
                "x": {"field": "shear", "type": "quantitative", "scale": {"domain": [0.93, 1.7], "nice": false, "zero": false}, "axis": {"title": "Shear rate (s⁻¹)", "values": [0.936, 1.0, 1.1, 1.2, 1.3, 1.4, 1.5, 1.6, 1.7], "labelExpr": "datum.value < 0.97 ? '0.0' : format(datum.value, '.1f')"}},
                "y": {"field": "visc", "type": "quantitative", "scale": {"domain": [3247, 7250], "nice": false, "zero": false}, "axis": {"title": "Viscosity (mPa.s)", "values": [3247, 3500, 3750, 4000, 4250, 4500, 4750, 5000, 5250, 5500, 5750, 6000, 6250, 6500, 6750, 7000, 7250], "labelExpr": "datum.value < 3400 ? '0.0' : format(datum.value, 'd')"}}
              },
              "layer": [
                {"mark": {"type": "errorbar", "ticks": {"size": 6, "color": "black"}, "color": "black", "thickness": 0.8}, "encoding": {"yError": {"field": "sd"}}},
                {"mark": {"type": "line", "color": "black", "strokeWidth": 1}, "encoding": {"detail": [{"field": "label", "type": "nominal"}, {"field": "kind", "type": "nominal"}]}},
                {"mark": {"type": "point", "filled": true, "stroke": "black", "strokeWidth": 1, "size": 30, "opacity": 1},
                 "encoding": {"shape": {"field": "label", "type": "nominal", "scale": {"domain": ["E-IV Initial", "E-IV TA 90", "E-IV G 90", "E-IV E 90"], "range": ["circle", "square", "triangle-up", "diamond"]}, "legend": null},
                              "fill": {"field": "kind", "type": "nominal", "scale": {"domain": ["filled", "open"], "range": ["black", "white"]}, "legend": null}}},
                {"mark": {"type": "point", "filled": true, "color": "black", "size": 0, "opacity": 1},
                 "encoding": {"shape": {"field": "label", "type": "nominal", "scale": {"domain": ["E-IV Initial", "E-IV TA 90", "E-IV G 90", "E-IV E 90"], "range": [
                   "M -9 -0.22 L -6 -0.22 L -6 0.22 L -9 0.22 Z M -3.2 -0.22 L 3.45 -0.22 L 3.45 0.22 L -3.2 0.22 Z M 5.55 -0.22 L 9 -0.22 L 9 0.22 L 5.55 0.22 Z M -6 0 A 1.5 1.5 0 1 1 -3 0 A 1.5 1.5 0 1 1 -6 0 Z M 3 0 A 1.5 1.5 0 1 1 6 0 A 1.5 1.5 0 1 1 3 0 Z M 3.45 0 A 1.05 1.05 0 1 0 5.55 0 A 1.05 1.05 0 1 0 3.45 0 Z",
                   "M -9 -0.22 L -6 -0.22 L -6 0.22 L -9 0.22 Z M -3.2 -0.22 L 3.55 -0.22 L 3.55 0.22 L -3.2 0.22 Z M 5.45 -0.22 L 9 -0.22 L 9 0.22 L 5.45 0.22 Z M -6 -1.4 L -3 -1.4 L -3 1.4 L -6 1.4 Z M 3.1 -1.4 L 5.9 -1.4 L 5.9 1.4 L 3.1 1.4 Z M 3.55 -0.95 L 3.55 0.95 L 5.45 0.95 L 5.45 -0.95 Z",
                   "M -9 -0.22 L -5.5 -0.22 L -5.5 0.22 L -9 0.22 Z M -3.5 -0.22 L 4.07 -0.22 L 4.07 0.22 L -3.5 0.22 Z M 4.93 -0.22 L 9 -0.22 L 9 0.22 L 4.93 0.22 Z M -4.5 -1.7 L -2.9 1.1 L -6.1 1.1 Z M 4.5 -1.7 L 6.1 1.1 L 2.9 1.1 Z M 4.5 -0.9 L 3.75 0.65 L 5.25 0.65 Z",
                   "M -9 -0.22 L -6.2 -0.22 L -6.2 0.22 L -9 0.22 Z M -2.8 -0.22 L 3.35 -0.22 L 3.35 0.22 L -2.8 0.22 Z M 5.65 -0.22 L 9 -0.22 L 9 0.22 L 5.65 0.22 Z M -4.5 -1.8 L -2.7 0 L -4.5 1.8 L -6.3 0 Z M 4.5 -1.8 L 6.3 0 L 4.5 1.8 L 2.7 0 Z M 4.5 -1.15 L 3.35 0 L 4.5 1.15 L 5.65 0 Z"]},
                   "legend": {"title": null, "orient": "none", "legendX": 170, "legendY": 6}}}},
                {"data": {"values": [{}]}, "mark": {"type": "text", "text": "//", "font": "Liberation Sans", "fontWeight": "bold", "fontSize": 12, "color": "black", "baseline": "middle"}, "encoding": {"x": {"datum": 0.975}, "y": {"datum": 3247}}},
                {"data": {"values": [{}]}, "mark": {"type": "text", "text": "\\\\", "angle": 90, "font": "Liberation Sans", "fontWeight": "bold", "fontSize": 11, "color": "black", "baseline": "middle"}, "encoding": {"x": {"datum": 0.93}, "y": {"datum": 3385}}}
              ],
              "resolve": {"scale": {"shape": "independent"}}
            }
          ]
        }
      ]
    }
  ]
}
